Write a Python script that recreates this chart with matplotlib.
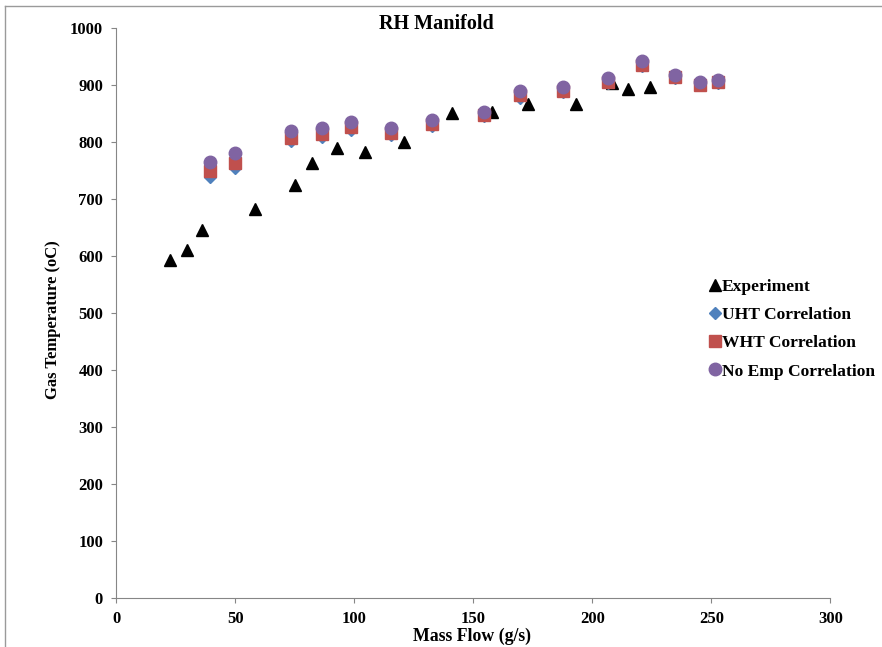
import matplotlib.pyplot as plt
from matplotlib.lines import Line2D

# measured exhaust gas temperature vs mass flow
exp_flow = [22.5, 29.6, 35.9, 58.2, 75.0, 82.0, 92.6, 104.4, 121.0, 141.0,
            157.8, 173.0, 193.0, 208.0, 215.0, 224.0]
exp_temp = [592, 611, 646, 683, 724, 764, 789, 782, 800, 851,
            852, 867, 867, 904, 893, 897]

# model predictions share the same flow points
model_flow = [39.3, 49.8, 73.3, 86.2, 98.5, 115.3, 132.6, 154.4, 169.5,
              187.6, 206.4, 220.8, 234.7, 245.1, 252.7]
uht_temp = [739, 754, 801, 809, 821, 812, 828, 845, 878, 887,
            904, 934, 913, 900, 904]
wht_temp = [749, 763, 807, 814, 826, 815, 831, 847, 882, 889,
            905, 936, 914, 901, 905]
noemp_temp = [765, 780, 819, 824, 836, 825, 839, 853, 890, 896,
              913, 943, 918, 905, 909]

plt.rcParams['font.family'] = ['Liberation Serif', 'DejaVu Serif']
plt.rcParams['font.weight'] = 'bold'

fig = plt.figure(figsize=(8.82, 6.47), dpi=100)
ax = fig.add_axes([0.132, 0.0765, 0.8096, 0.88])

ax.plot(exp_flow, exp_temp, ls='none', marker='^', ms=9, color='black',
        label='Experiment')
ax.plot(model_flow, uht_temp, ls='none', marker='D', ms=6.5, color='#4F81BD',
        label='UHT Correlation')
ax.plot(model_flow, wht_temp, ls='none', marker='s', ms=8.5, color='#C0504D',
        label='WHT Correlation')
ax.plot(model_flow, noemp_temp, ls='none', marker='o', ms=9, color='#8064A2',
        label='No Emp Correlation')

ax.set_xlim(0, 300)
ax.set_ylim(0, 1000)
ax.set_xticks(range(0, 301, 50))
ax.set_yticks(range(0, 1001, 100))
for s in ['top', 'right']:
    ax.spines[s].set_visible(False)
for s in ['left', 'bottom']:
    ax.spines[s].set_color('#868686')
ax.tick_params(direction='out', length=3.6, color='#868686', labelsize=12,
               pad=6)
for lbl in ax.get_xticklabels() + ax.get_yticklabels():
    lbl.set_fontweight('bold')

fig.text(436 / 882, 1 - 24 / 647, 'RH Manifold', ha='center', va='center',
         fontsize=14.5, fontweight='bold')
fig.text(472 / 882, 1 - 636 / 647, 'Mass Flow (g/s)', ha='center',
         va='center', fontsize=12.8, fontweight='bold')
fig.text(53 / 882, 1 - 320 / 647, 'Gas Temperature (oC)', ha='center',
         va='center', rotation=90, fontsize=12, fontweight='bold')

ax.legend(loc='upper left', bbox_to_anchor=(0.82, 0.572), frameon=False,
          handlelength=0.7, handletextpad=0.05, labelspacing=0.68,
          prop={'size': 12.6, 'weight': 'bold'}, borderaxespad=0)

# thin outer frame along the left and top edges
fig.add_artist(Line2D([5 / 882, 5 / 882], [0, 1 - 6 / 647], color='#9a9a9a',
                      lw=1, transform=fig.transFigure))
fig.add_artist(Line2D([5 / 882, 1], [1 - 6 / 647, 1 - 6 / 647],
                      color='#9a9a9a', lw=1, transform=fig.transFigure))

fig.savefig('out.png', dpi=100)
